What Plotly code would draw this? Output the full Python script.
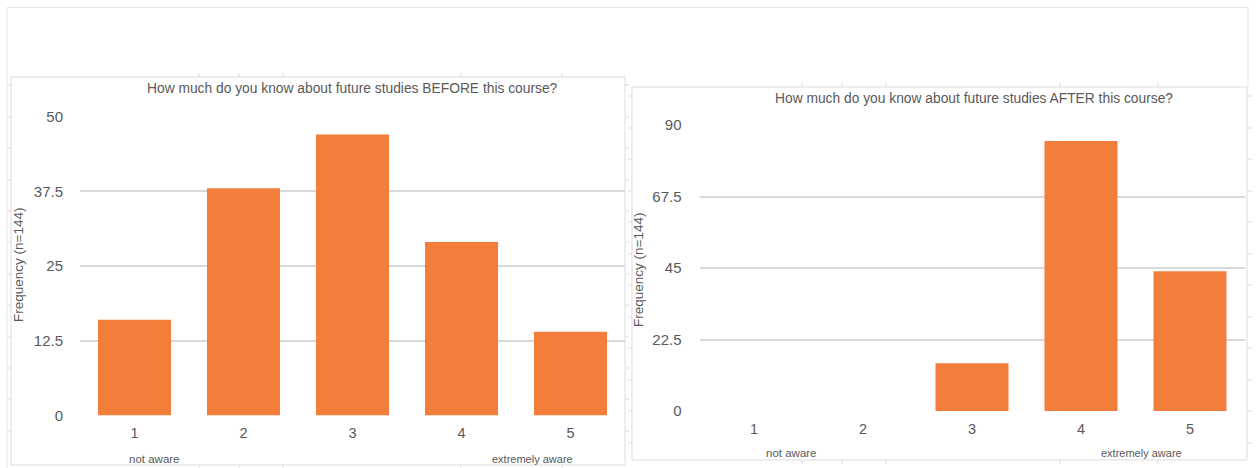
import plotly.graph_objects as go

# Survey responses: self-rated knowledge of future studies (1-5 scale), n=144
levels = ["1", "2", "3", "4", "5"]
before_counts = [16, 38, 47, 29, 14]
after_counts = [0, 0, 15, 85, 44]

before_ticks = [0, 12.5, 25, 37.5, 50]
after_ticks = [0, 22.5, 45, 67.5, 90]

before_title = "How much do you know about future studies BEFORE this course?"
after_title = "How much do you know about future studies AFTER this course?"
y_title = "Frequency (n=144)"
low_label = "not aware"
high_label = "extremely aware"

W, H = 1256, 468
BAR = "#F37E3B"
GRID = "#D9D9D9"
TXT = "#595959"
FONT = "Liberation Sans, Arial, sans-serif"


def px(x):
    return x / W


def py(y):
    return 1 - y / H


fig = go.Figure()
fig.add_trace(go.Bar(x=levels, y=before_counts, marker_color=BAR,
                     marker_line_width=0, xaxis="x", yaxis="y"))
fig.add_trace(go.Bar(x=levels, y=after_counts, marker_color=BAR,
                     marker_line_width=0, xaxis="x2", yaxis="y2"))

xcommon = dict(type="category", showgrid=False, zeroline=False, showline=False,
               ticks="", automargin=False,
               tickfont=dict(family=FONT, size=14.5, color=TXT),
               ticklabelstandoff=7)
ycommon = dict(showgrid=True, gridcolor=GRID, gridwidth=2, zeroline=False,
               showline=False, ticks="", automargin=False,
               tickfont=dict(family=FONT, size=15, color=TXT))

fig.update_layout(
    width=W, height=H, autosize=False,
    margin=dict(l=0, r=0, t=0, b=0, autoexpand=False),
    paper_bgcolor="white", plot_bgcolor="white",
    showlegend=False, bargap=0.33,
    xaxis=dict(domain=[px(80), px(625)], anchor="y", **xcommon),
    yaxis=dict(domain=[py(415.5), py(116.5)], anchor="x", range=[0, 50],
               tickvals=before_ticks, ticktext=[f"{v:g}" for v in before_ticks],
               ticklabelstandoff=16, **ycommon),
    xaxis2=dict(domain=[px(699.5), px(1244.5)], anchor="y2", **xcommon),
    yaxis2=dict(domain=[py(411), py(125)], anchor="x2", range=[0, 90],
                tickvals=after_ticks, ticktext=[f"{v:g}" for v in after_ticks],
                ticklabelstandoff=17, **ycommon),
)

ann = []


def label(text, x, y, size, angle=0):
    ann.append(dict(text=text, x=px(x), y=py(y), xref="paper", yref="paper",
                    showarrow=False, textangle=angle, xanchor="center",
                    yanchor="middle", font=dict(family=FONT, size=size, color=TXT)))


label(before_title, 352, 88, 13.8)
label(after_title, 974, 98, 13.8)
label(y_title, 18, 265, 13.5, -90)
label(y_title, 638, 270, 13.5, -90)
label(low_label, 154, 459, 11.5)
label(high_label, 532, 459, 11)
label(low_label, 791, 453, 11.5)
label(high_label, 1141, 453, 11)

shapes = []
EDGE = "#DCDCDC"


def line(x0, y0, x1, y1, color=EDGE, w=1):
    shapes.append(dict(type="line", xref="paper", yref="paper",
                       x0=px(x0), y0=py(y0), x1=px(x1), y1=py(y1),
                       line=dict(color=color, width=w)))


# outer sheet frame
line(7, 7.5, 1248, 7.5, "#E6E6E6")
line(7, 7.5, 7, 468, "#E6E6E6")
line(1248, 7.5, 1248, 87, "#E6E6E6")

# chart frames
shapes.append(dict(type="rect", xref="paper", yref="paper",
                   x0=px(11), y0=py(465), x1=px(625), y1=py(77),
                   line=dict(color=EDGE, width=1), layer="below"))
shapes.append(dict(type="rect", xref="paper", yref="paper",
                   x0=px(632), y0=py(460), x1=px(1247), y1=py(87),
                   line=dict(color=EDGE, width=1), layer="below"))

# sheet row / column marks peeking out around the frames
rows_left = [85, 117, 148, 180, 211, 242, 274, 305, 337, 368, 399, 431]
for r in rows_left:
    line(7, r, 11, r)
    line(625, r, 629, r)
rows_right = [96, 128, 159, 191, 222, 254, 285, 317, 348, 380, 411, 443]
for r in rows_right:
    line(628, r, 632, r)
    line(1247, r, 1252, r)
for c in [199, 239, 283, 461, 562]:
    line(c, 73, c, 77)
    line(c, 465, c, 468)
for c in [802, 842, 886, 1060, 1158]:
    line(c, 83, c, 87)
    line(c, 460, c, 464)

fig.update_layout(shapes=shapes, annotations=ann)
fig.write_html("out.html")
